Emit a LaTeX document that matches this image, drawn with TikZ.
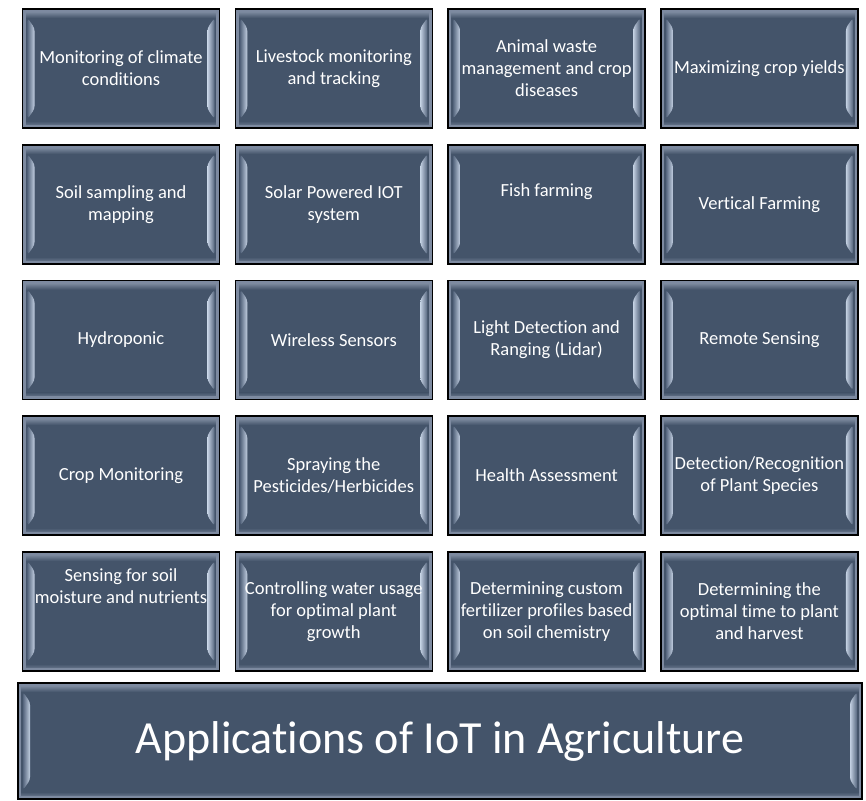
\documentclass[tikz,border=0pt]{standalone}
\usepackage{fontspec}
\setmainfont{Carlito}[Ligatures=NoCommon]
\usetikzlibrary{calc}

\definecolor{boxfill}{HTML}{44546A}
\definecolor{boxedge}{HTML}{7D8AA0}
\definecolor{bevellight}{HTML}{95A2B6}
\definecolor{stripelight}{HTML}{C3D0E2}
\definecolor{stripedark}{HTML}{56667E}

% soft bevel drawn inside every box
\newcommand{\boxbevel}{%
  \path (path picture bounding box.north west) coordinate (bnw)
        (path picture bounding box.north east) coordinate (bne)
        (path picture bounding box.south west) coordinate (bsw)
        (path picture bounding box.south east) coordinate (bse);
  % top and bottom bands
  \fill[top color=bevellight, bottom color=boxfill] (bnw) rectangle ($(bne)+(0,9)$);
  \fill[top color=boxfill, bottom color=boxedge] ($(bsw)+(0,-7)$) rectangle (bse);
  % left and right stripes
  \fill[left color=stripedark, right color=stripelight, rounded corners=3pt]
    ($(bnw)+(5,9)$) -- ($(bnw)+(12,19)$) -- ($(bsw)+(12,-19)$) -- ($(bsw)+(5,-9)$) -- cycle;
  \fill[left color=stripelight, right color=stripedark, rounded corners=3pt]
    ($(bne)+(-5,9)$) -- ($(bne)+(-12,19)$) -- ($(bse)+(-12,-19)$) -- ($(bse)+(-5,-9)$) -- cycle;
  % light rim
  \draw[boxedge, line width=2.5pt] ($(bnw)+(2,2)$) rectangle ($(bse)+(-2,-2)$);
}

\tikzset{
  appbox/.style={draw=black, line width=1.5pt, fill=boxfill, text=white, align=center,
    minimum width=197pt, minimum height=119pt, inner sep=0pt,
    font=\fontsize{18.5}{22}\selectfont, path picture={\boxbevel}},
  titlebox/.style={appbox, minimum width=844pt, minimum height=116pt,
    font=\fontsize{46}{54}\selectfont},
}

\begin{document}
\begin{tikzpicture}[x=1pt, y=-1pt]
    % page frame
    \useasboundingbox (0, 0) rectangle (866, 800);
    % first row
    \node[appbox] (climate) at (121, 68.5) {Monitoring of climate\\conditions};
    \node[appbox] (livestock) at (333.8, 68.5) {Livestock monitoring\\and tracking};
    \node[appbox] (waste) at (546.6, 68.5) {Animal waste\\management and crop\\diseases};
    \node[appbox] (yields) at (759.4, 68.5) {Maximizing crop yields};
    % second row
    \node[appbox] (soil) at (121, 204.5) {Soil sampling and\\mapping};
    \node[appbox] (solar) at (333.8, 204.5) {Solar Powered IOT\\system};
    \node[appbox] (fish) at (546.6, 204.5) {Fish farming\\\strut};
    \node[appbox] (vertical) at (759.4, 204.5) {Vertical Farming};
    % third row
    \node[appbox] (hydroponic) at (121, 340) {Hydroponic};
    \node[appbox] (sensors) at (333.8, 340) {Wireless Sensors};
    \node[appbox] (lidar) at (546.6, 340) {Light Detection and\\Ranging (Lidar)};
    \node[appbox] (remote) at (759.4, 340) {Remote Sensing};
    % fourth row
    \node[appbox] (cropmon) at (121, 475.5) {Crop Monitoring};
    \node[appbox] (spraying) at (333.8, 475.5) {Spraying the\\Pesticides/Herbicides};
    \node[appbox] (health) at (546.6, 475.5) {Health Assessment};
    \node[appbox] (species) at (759.4, 475.5) {Detection/Recognition\\of Plant Species};
    % fifth row
    \node[appbox] (moisture) at (121, 611.5) {Sensing for soil\\moisture and nutrients\\\strut\\\strut};
    \node[appbox] (water) at (333.8, 611.5) {Controlling water usage\\for optimal plant\\growth};
    \node[appbox] (fertilizer) at (546.6, 611.5) {Determining custom\\fertilizer profiles based\\on soil chemistry};
    \node[appbox] (harvest) at (759.4, 611.5) {Determining the\\optimal time to plant\\and harvest};
    % title
    \node[titlebox] (title) at (440, 741) {Applications of IoT in Agriculture};
\end{tikzpicture}
\end{document}
